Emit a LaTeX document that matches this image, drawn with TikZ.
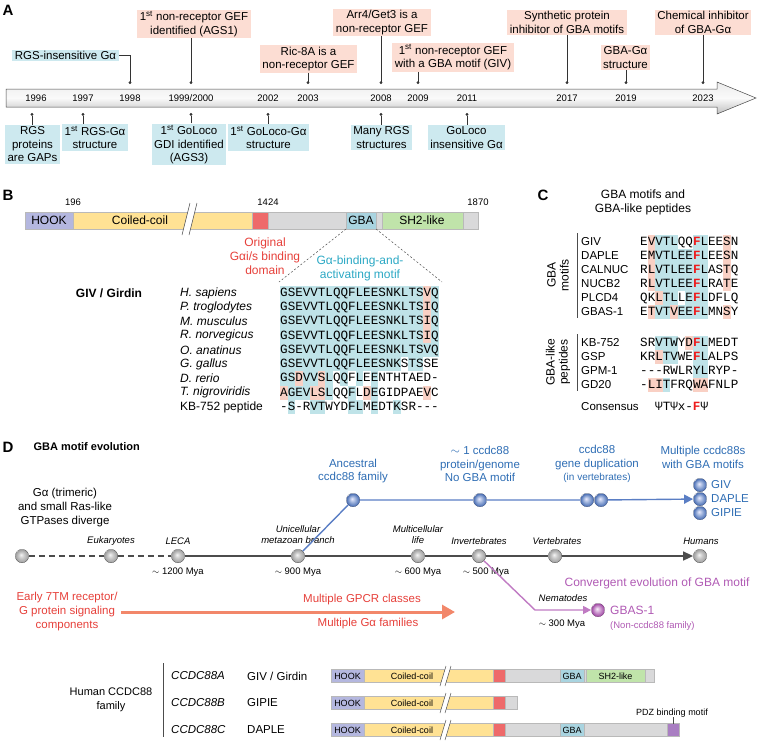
\documentclass[tikz,border=0pt]{standalone}
\usepackage{fontspec}
\setmainfont{Liberation Sans}
\setmonofont{Liberation Mono}
\usetikzlibrary{arrows.meta,calc}

\definecolor{boxpink}{HTML}{FCDDD3}
\definecolor{boxblue}{HTML}{CDE9EF}
\definecolor{hookc}{HTML}{B4B7DF}
\definecolor{coilc}{HTML}{FFE294}
\definecolor{redc}{HTML}{EE6A6A}
\definecolor{grayc}{HTML}{D9D9DA}
\definecolor{gbac}{HTML}{A9D4E0}
\definecolor{shc}{HTML}{C0E4AA}
\definecolor{pdzc}{HTML}{A97EC2}
\definecolor{seqcyan}{HTML}{BFE3E8}
\definecolor{seqpink}{HTML}{F9D0C4}
\definecolor{txtred}{HTML}{E6403A}
\definecolor{txtcyan}{HTML}{2BA8C4}
\definecolor{txtblue}{HTML}{2E6DB4}
\definecolor{lineblue}{HTML}{5A7EC4}
\definecolor{purp}{HTML}{B05AB4}
\definecolor{orangec}{HTML}{F2876A}
\definecolor{fred}{HTML}{EE1C1C}

\pgfdeclareradialshading{grayballsh}{\pgfpoint{-4bp}{5bp}}{color(0bp)=(gray!8); color(10bp)=(gray!40); color(22bp)=(gray!70); color(25bp)=(gray!75)}
\pgfdeclareradialshading{blueballsh}{\pgfpoint{-4bp}{5bp}}{color(0bp)=(blue!8); color(10bp)=(lineblue!55); color(22bp)=(lineblue!95!black); color(25bp)=(lineblue!90!black)}
\pgfdeclareradialshading{purpballsh}{\pgfpoint{-4bp}{5bp}}{color(0bp)=(purp!10); color(10bp)=(purp!55); color(22bp)=(purp!95!black); color(25bp)=(purp!90!black)}

\newcommand\szseq{\fontsize{12.58}{14}\selectfont\ttfamily}
\newcommand\redF{\textcolor{fred}{\textbf{F}}}
% fill alignment cells: x0, y centre, colour, columns
\newcommand\hlcells[4]{\foreach \c in {#4}{\fill[#3] ({#1+7.55*\c},{#2-7.1}) rectangle ++(7.55,14.3);}}

\tikzset{
	panel/.style={font=\bfseries\fontsize{15}{15}\selectfont},
	pinkbox/.style={fill=boxpink, inner xsep=2.5pt, inner ysep=1.5pt, align=center, font=\fontsize{11.5}{13.5}\selectfont},
	bluebox/.style={pinkbox, fill=boxblue},
	year/.style={font=\fontsize{9.5}{11}\selectfont},
	tick/.style={draw=black!80, line width=0.6pt, -{Circle[length=2.8pt]}},
	seq/.style={anchor=west, inner sep=0pt, font=\szseq, text height=9pt, text depth=2.5pt},
	species/.style={anchor=west, inner sep=0pt, font=\fontsize{12}{14}\selectfont\itshape},
	gname/.style={anchor=west, inner sep=0pt, font=\fontsize{11.5}{14}\selectfont},
	seg/.style={draw=gray!55, line width=0.4pt},
	barlabel/.style={font=\fontsize{9}{10}\selectfont, inner sep=0pt},
	gball/.style={circle, inner sep=0pt, minimum size=13.5pt, shading=grayballsh, draw=gray!50!black, line width=0.3pt},
	bball/.style={gball, shading=blueballsh, draw=lineblue!60!black},
	pball/.style={gball, shading=purpballsh, draw=purp!60!black},
	evoline/.style={draw=black!70, line width=1.6pt},
	blueline/.style={draw=lineblue, line width=1.4pt},
	purpline/.style={draw=purp!80, line width=1.4pt},
	labit/.style={font=\fontsize{9.5}{11.5}\selectfont\itshape, align=center},
	mya/.style={font=\fontsize{9.5}{11}\selectfont},
	bluetext/.style={text=txtblue, font=\fontsize{11.5}{13.8}\selectfont, align=center},
	redtext/.style={text=txtred, font=\fontsize{11.5}{14}\selectfont, align=center},
	plain/.style={font=\fontsize{11.5}{14}\selectfont, align=center},
}

\begin{document}
\begin{tikzpicture}[x=1pt,y=-1pt]
\useasboundingbox (0,0) rectangle (758,740);

% ---------- A : timeline
\node[panel] at (8,10) {A};
\shadedraw[top color=gray!15, bottom color=gray!50, middle color=gray!4, draw=gray!55!black, line width=0.5pt]
	(6,89) -- (717,89) -- (717,82) -- (756,98) -- (717,114) -- (717,107) -- (6,107) -- cycle;
\foreach \x/\yr in {36/1996, 83/1997, 130/1998, 191/1999\slash 2000, 268/2002, 308/2003, 381/2008, 418/2009, 467/2011, 567/2017, 626/2019, 703/2023}
	\node[year] at (\x,98) {\yr};
\foreach \n/\x in {98/130, 99/191, 03/308, 08/381, 09/418, 17/567, 19/626, 23/703}
	\coordinate (a\n) at (\x,84);
\foreach \n/\x in {96/32, 97/83, 99/191, 02/268, 08/381, 11/467}
	\coordinate (b\n) at (\x,113);

\node[bluebox] (rgsins) at (65.5,55.5) {RGS-insensitive Gα};
\node[pinkbox] (ags1) at (194,24) {1\textsuperscript{st} non-receptor GEF\\identified (AGS1)};
\node[pinkbox] (ric) at (308.5,59) {Ric-8A is a\\non-receptor GEF};
\node[pinkbox] (arr) at (382,22.5) {Arr4/Get3 is a\\non-receptor GEF};
\node[pinkbox] (givgef) at (453,57.5) {1\textsuperscript{st} non-receptor GEF\\with a GBA motif (GIV)};
\node[pinkbox] (synth) at (567,22.5) {Synthetic protein\\inhibitor of GBA motifs};
\node[pinkbox] (gbagal) at (625.5,57.5) {GBA-Gα\\structure};
\node[pinkbox] (chem) at (703,22.5) {Chemical inhibitor\\of GBA-Gα};
\draw[tick] (rgsins.east) -| (a98);
\draw[tick] (ags1.south -| a99) -- (a99);
\draw[tick] (ric.south -| a03) -- (a03);
\draw[tick] (arr.south -| a08) -- (a08);
\draw[tick] (givgef.south -| a09) -- (a09);
\draw[tick] (synth.south -| a17) -- (a17);
\draw[tick] (gbagal.south -| a19) -- (a19);
\draw[tick] (chem.south -| a23) -- (a23);

\node[bluebox] (gaps) at (32.5,144.5) {RGS\\proteins\\are GAPs};
\node[bluebox] (rgsstr) at (95,137.5) {1\textsuperscript{st} RGS-Gα\\structure};
\node[bluebox] (ags3) at (189,144.5) {1\textsuperscript{st} GoLoco\\GDI identified\\(AGS3)};
\node[bluebox] (glstr) at (268.5,137.5) {1\textsuperscript{st} GoLoco-Gα\\structure};
\node[bluebox] (manyrgs) at (381.5,137.5) {Many RGS\\structures};
\node[bluebox] (glins) at (466.5,137.5) {GoLoco\\insensitive Gα};
\draw[tick] (gaps.north -| b96) -- (b96);
\draw[tick] (rgsstr.north -| b97) -- (b97);
\draw[tick] (ags3.north -| b99) -- (b99);
\draw[tick] (glstr.north -| b02) -- (b02);
\draw[tick] (manyrgs.north -| b08) -- (b08);
\draw[tick] (glins.north -| b11) -- (b11);

% ---------- B : GIV domains and alignment
\node[panel] at (8,195) {B};
\foreach \a/\b/\col in {25/73/hookc, 73/252/coilc, 252/268/redc, 268/346/grayc, 346/376/gbac, 376/382/grayc, 382/463/shc, 463/478/grayc}
	\filldraw[seg, fill=\col] (\a,212) rectangle (\b,229);
\fill[white] (182,235) -- (190,203) -- (197,203) -- (189,235) -- cycle;
\draw[gray!60!black, line width=0.5pt] (182,235) -- (190,203) (189,235) -- (197,203);
\node[font=\fontsize{12}{14}\selectfont] at (49,220.5) {HOOK};
\node[font=\fontsize{12}{14}\selectfont] at (140,220.5) {Coiled-coil};
\node[font=\fontsize{12}{14}\selectfont] at (361,220.5) {GBA};
\node[font=\fontsize{12}{14}\selectfont] at (422,220.5) {SH2-like};
\node[year] at (73,202) {196};
\node[year] at (268,202) {1424};
\node[year] at (478,202) {1870};
\node[redtext, font=\fontsize{12}{14}\selectfont] (orig) at (265,256) {Original\\Gαi/s binding\\domain};
\node[redtext, text=txtcyan, font=\fontsize{12}{14}\selectfont] (gbamotif) at (360,268) {Gα-binding-and-\\activating motif};
\coordinate (gbal) at (346,229);
\coordinate (gbar) at (376,229);
\coordinate (alnl) at (279,282);
\coordinate (alnr) at (442,282);
\draw[gray!60!black, dash pattern=on 2pt off 2pt, line width=0.5pt] (gbal) -- (alnl) (gbar) -- (alnr);

\node[font=\bfseries\fontsize{12}{14}\selectfont] at (109,293) {GIV / Girdin};
\foreach \i in {0,...,3}{
	\hlcells{280}{293+14.25*\i}{seqcyan}{0,...,18,20}
	\hlcells{280}{293+14.25*\i}{seqpink}{19}
}
\hlcells{280}{350}{seqcyan}{0,...,20}
\hlcells{280}{364.25}{seqcyan}{0,...,15,17,18}
\hlcells{280}{378.5}{seqcyan}{0,1,3,4,6,...,12}
\hlcells{280}{378.5}{seqpink}{2,5}
\hlcells{280}{392.75}{seqcyan}{1,2,3,6,...,10,12}
\hlcells{280}{392.75}{seqpink}{0,4,5,11,19}
\hlcells{280}{407}{seqcyan}{1,4,5,9,10,12,15}
\foreach \sp [count=\i from 0] in {H. sapiens, P. troglodytes, M. musculus, R. norvegicus, O. anatinus, G. gallus, D. rerio, T. nigroviridis}
	\node[species] at (180,{293+14.25*\i}) {\sp};
\node[species, font=\fontsize{12}{14}\selectfont] at (180,407) {KB-752 peptide};
\foreach \s [count=\i from 0] in {GSEVVTLQQFLEESNKLTSVQ, GSEVVTLQQFLEESNKLTSIQ, GSEVVTLQQFLEESNKLTSIQ, GSEVVTLQQFLEESNKLTSIQ, GSEVVTLQQFLEESNKLTSVQ, GSEVVTLQQFLEESNKSTSSE, GSDVVSLQQFLEENTHTAED-, AGEVLSLQQFLDEGIDPAEVC, -S-RVTWYDFLMEDTKSR---}
	\node[seq] at (280,{293+14.25*\i}) {\s};

% ---------- C : GBA motifs
\node[panel] at (543,195) {C};
\node[plain, font=\fontsize{12}{14}\selectfont] (ctitle) at (643,202) {GBA motifs and\\GBA-like peptides};
\draw[gray!60!black, line width=0.6pt] (577,233) -- (577,318) (577,334) -- (577,391);
\node[plain, rotate=90, font=\fontsize{12}{13}\selectfont] at (558,275) {GBA\\motifs};
\node[plain, rotate=90, font=\fontsize{12}{13}\selectfont] at (558,362) {GBA-like\\peptides};
\hlcells{640}{242}{seqpink}{1,11}
\hlcells{640}{242}{seqcyan}{2,3,4,7,8}
\foreach \i in {1,2,3}{
	\hlcells{640}{242+14*\i}{seqpink}{1,11}
	\hlcells{640}{242+14*\i}{seqcyan}{2,...,8}
}
\hlcells{640}{298}{seqpink}{2}
\hlcells{640}{298}{seqcyan}{3,4,6,7,8}
\hlcells{640}{312}{seqpink}{1,4,11}
\hlcells{640}{312}{seqcyan}{2,3,5,6,7,8}
\hlcells{640}{343}{seqcyan}{2,3,4,7,8}
\hlcells{640}{343}{seqpink}{6}
\hlcells{640}{357}{seqpink}{2}
\hlcells{640}{357}{seqcyan}{3,4,7,8}
\hlcells{640}{371}{seqcyan}{7,8}
\hlcells{640}{385}{seqpink}{1,2,7,8}
\hlcells{640}{385}{seqcyan}{3}
\foreach \nm/\s [count=\i from 0] in {GIV/EVVTLQQ\redF LEESN, DAPLE/EMVTLEE\redF LEESN, CALNUC/RLVTLEE\redF LASTQ, NUCB2/RLVTLEE\redF LRATE, PLCD4/QKLTLLE\redF LDFLQ, GBAS-1/ETVTVEE\redF LMNSY}{
	\node[gname] at (581,{242+14*\i}) {\nm};
	\node[seq] at (640,{242+14*\i}) {\s};
}
\foreach \nm/\s [count=\i from 0] in {KB-752/SRVTWYD\redF LMEDT, GSP/KRLTVWE\redF LALPS, GPM-1/---RWLRYLRYP-, GD20/-LITFRQWAFNLP}{
	\node[gname] at (581,{343+14*\i}) {\nm};
	\node[seq] at (640,{343+14*\i}) {\s};
}
\node[gname] at (581,407) {Consensus};
\node[seq] at (655,407) {ΨTΨx-\redF Ψ};

% ---------- D : evolution
\node[panel] at (8,447) {D};
\node[anchor=west, font=\bfseries\fontsize{11}{13}\selectfont] at (30,447) {GBA motif evolution};

\node[plain] (gadiv) at (65,508) {Gα (trimeric)\\and small Ras-like\\GTPases diverge};
\node[gball] (root) at (22,556) {};
\node[gball] (euk) at (111,556) {};
\node[gball] (leca) at (178,556) {};
\node[gball] (uni) at (298,556) {};
\node[gball] (multi) at (418,556) {};
\node[gball] (inv) at (479,556) {};
\node[gball] (vert) at (555,556) {};
\node[gball] (human) at (700,556) {};
\draw[evoline, dash pattern=on 6pt off 4pt] (root) -- (euk) -- (leca);
\draw[evoline, -{Triangle[length=10pt,width=9pt]}] (leca) -- (uni) -- (multi) -- (inv) -- (vert) -- (human);

\node[labit] at (111,541) {Eukaryotes};
\node[labit] at (178,541) {LECA};
\node[labit] at (298,534.5) {Unicellular\\metazoan branch};
\node[labit] at (418,534.5) {Multicellular\\life};
\node[labit] at (479,541) {Invertebrates};
\node[labit] at (557,541) {Vertebrates};
\node[labit] at (701,541) {Humans};
\node[mya] at (178,572) {$\sim$ 1200 Mya};
\node[mya] at (298,572) {$\sim$ 900 Mya};
\node[mya] at (418,572) {$\sim$ 600 Mya};
\node[mya] at (486,572) {$\sim$ 500 Mya};

% ccdc88 branch
\node[bball] (anc) at (353,500) {};
\node[bball] (onecc) at (480,500) {};
\node[bball] (dupa) at (587,500) {};
\node[bball] (dupb) at (601,500) {};
\node[bball] (givb) at (700,485) {};
\node[bball] (dapb) at (700,499) {};
\node[bball] (gipb) at (700,513) {};
\draw[blueline] (uni) -- (anc) -- (onecc) -- (dupa);
\draw[blueline, -{Triangle[length=9pt,width=9pt]}] (dupb) -- (dapb);
\node[bluetext] at (353,471) {Ancestral\\ccdc88 family};
\node[bluetext] at (480,464) {$\sim$ 1 ccdc88\\protein/genome\\No GBA motif};
\node[bluetext] at (597,464) {ccdc88\\gene duplication\\{\fontsize{10}{12}\selectfont(in vertebrates)}};
\node[bluetext] at (703,457) {Multiple ccdc88s\\with GBA motifs};
\node[bluetext, anchor=west, inner sep=1pt] at (710,485) {GIV};
\node[bluetext, anchor=west, inner sep=1pt] at (710,499) {DAPLE};
\node[bluetext, anchor=west, inner sep=1pt] at (710,513) {GIPIE};

% nematode branch
\node[pball] (gbas) at (598,610) {};
\coordinate (nbend) at (535,610);
\draw[purpline, -{Triangle[length=8pt,width=8pt]}] (inv) -- (nbend) -- (gbas);
\node[text=purp, font=\fontsize{12}{14}\selectfont] at (657,583) {Convergent evolution of GBA motif};
\node[text=purp, anchor=west, inner sep=1pt, font=\fontsize{12}{14}\selectfont] at (609,610) {GBAS-1};
\node[text=purp, anchor=west, inner sep=1pt, font=\fontsize{9.5}{11}\selectfont] at (609,626) {(Non-ccdc88 family)};
\node[labit] at (563,598) {Nematodes};
\node[mya] at (562,624) {$\sim$ 300 Mya};

% G protein signalling
\node[redtext] (early) at (67,612) {Early 7TM receptor/\\G protein signaling\\components};
\coordinate (sige) at (455,612);
\draw[orangec, line width=3pt, -{Triangle[length=13pt,width=14pt]}] (early.east) -- (sige);
\node[redtext] at (362,600) {Multiple GPCR classes};
\node[redtext] at (368,624) {Multiple Gα families};

% ---------- human CCDC88 family
\node[plain, font=\fontsize{11}{14}\selectfont] at (111,700) {Human CCDC88\\family};
\draw[gray!60!black, line width=0.6pt] (163,663) -- (163,737);
\foreach \g/\p/\y in {CCDC88A/GIV \slash{} Girdin/676, CCDC88B/GIPIE/703, CCDC88C/DAPLE/730}{
	\node[gname, font=\fontsize{11.5}{14}\selectfont\itshape] at (171,\y) {\g};
	\node[gname] at (247,\y) {\p};
}
\foreach \a/\b/\col in {331/364/hookc, 364/493/coilc, 493/505/redc, 505/560/grayc, 560/584/gbac, 584/586/grayc, 586/645/shc, 645/654/grayc}
	\filldraw[seg, fill=\col] (\a,669.5) rectangle (\b,682.5);
\foreach \a/\b/\col in {331/364/hookc, 364/493/coilc, 493/505/redc, 505/517/grayc}
	\filldraw[seg, fill=\col] (\a,696.5) rectangle (\b,709.5);
\foreach \a/\b/\col in {331/364/hookc, 364/493/coilc, 493/505/redc, 505/560/grayc, 560/584/gbac, 584/667/grayc, 667/679/pdzc}
	\filldraw[seg, fill=\col] (\a,723.5) rectangle (\b,736.5);
\foreach \y in {676,703,730}{
	\fill[white] ({440},{\y+10}) -- ({446},{\y-10}) -- ({451},{\y-10}) -- ({445},{\y+10}) -- cycle;
	\draw[gray!60!black, line width=0.5pt] ({440},{\y+10}) -- ({446},{\y-10}) ({445},{\y+10}) -- ({451},{\y-10});
	\node[barlabel] at (347.5,\y) {HOOK};
	\node[barlabel] at (412,\y) {Coiled-coil};
}
\node[barlabel] at (572,676) {GBA};
\node[barlabel] at (615.5,676) {SH2-like};
\node[barlabel] at (572,730) {GBA};
\node[barlabel] (pdz) at (672,713) {PDZ binding motif};
\coordinate (pdzbar) at (673,723.5);
\draw[gray!60!black, line width=0.5pt] (pdz.south -| pdzbar) -- (pdzbar);
\end{tikzpicture}
\end{document}
